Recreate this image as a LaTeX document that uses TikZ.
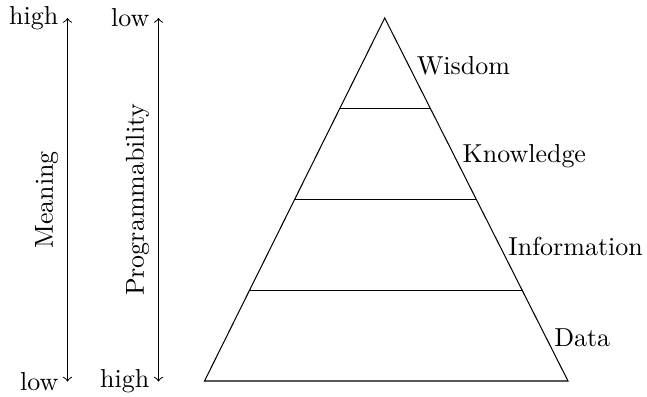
\documentclass[tikz,border=0pt]{standalone}
\usetikzlibrary{calc}
\begin{document}
\begin{tikzpicture}[x=0.385pt,y=-0.385pt,
  axis/.style={<->},
  lab/.style={anchor=west,yshift=-0.8pt}]
\useasboundingbox (0,0) rectangle (647,397);
% pyramid corners
\coordinate (apex) at (384.7,18);
\coordinate (bl) at (204.5,381);
\coordinate (br) at (568,381);
\coordinate (l1) at ($(apex)!0.25!(bl)$);
\coordinate (r1) at ($(apex)!0.25!(br)$);
\coordinate (l2) at ($(apex)!0.5!(bl)$);
\coordinate (r2) at ($(apex)!0.5!(br)$);
\coordinate (l3) at ($(apex)!0.75!(bl)$);
\coordinate (r3) at ($(apex)!0.75!(br)$);
\draw (apex) -- (bl) -- (br) -- cycle;
\draw (l1) -- (r1);
\draw (l2) -- (r2);
\draw (l3) -- (r3);
\node[lab] (w) at ($(apex)!0.5!(r1)$) {Wisdom};
\node[lab] (k) at ($(r1)!0.5!(r2)$) {Knowledge};
\node[lab] (i) at ($(r2)!0.5!(r3)$) {Information};
\node[lab] (d) at ($(r3)!0.5!(br)$) {Data};
% axes
\coordinate (mt) at (67.5,18);
\coordinate (mb) at (67.5,381.5);
\coordinate (pt) at (158.5,18);
\coordinate (pb) at (158.5,381.5);
\draw[axis] (mb) -- node[midway,above,rotate=90] (m) {Meaning} (mt);
\draw[axis] (pb) -- node[midway,above,rotate=90] (p) {Programmability} (pt);
\node[anchor=east] (mh) at (mt) {high};
\node[anchor=east] (ml) at (mb) {low};
\node[anchor=east] (pl) at (pt) {low};
\node[anchor=east] (ph) at (pb) {high};
\end{tikzpicture}
\end{document}
